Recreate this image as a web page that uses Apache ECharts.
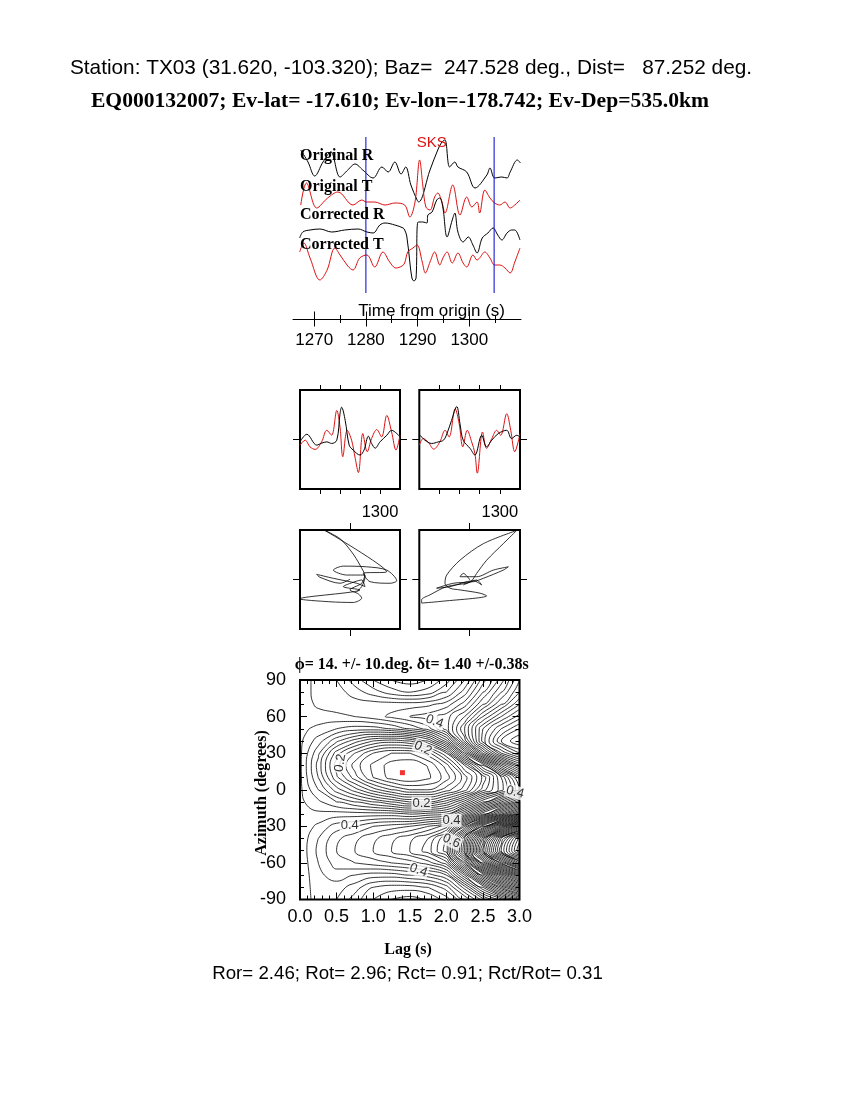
<!DOCTYPE html>
<html>
<head>
<meta charset="utf-8">
<script src="https://cdn.jsdelivr.net/npm/echarts@6/dist/echarts.min.js"></script>
<style>html,body{margin:0;padding:0;background:#fff}#c{width:850px;height:1100px}</style>
</head>
<body>
<div id="c"></div>
<script>
// ---------------- DATA ----------------
const titleStation = 'Station: TX03 (31.620, -103.320); Baz=  247.528 deg., Dist=   87.252 deg.';
const titleEvent = 'EQ000132007; Ev-lat= -17.610; Ev-lon=-178.742; Ev-Dep=535.0km';
const splitTitle = 'ϕ= 14. +/- 10.deg. δt= 1.40 +/-0.38s';
const ratioText = 'Ror= 2.46; Rot= 2.96; Rct= 0.91; Rct/Rot= 0.31';
const phaseName = 'SKS';

const traceNames = ['Original R', 'Original T', 'Corrected R', 'Corrected T'];
const traceOffsets = [0, -33, -62, -90];
const topTimeTicks = [1270, 1280, 1290, 1300];
const topMinorTicks = [1275, 1285, 1295, 1305];
const windowTimes = [1280.0, 1304.8];
const windowSpan = [33, -123];

// [time (s), amplitude]
const origR = [[1267.4,20],[1268.8,8],[1270.1,-6],[1271.7,8],[1273.2,18],[1275.0,-7],[1276.5,0],[1277.9,6],[1279.4,0],[1281.4,-8],[1283.1,3],[1284.3,-2],[1285.6,8],[1286.8,-4],[1287.7,3],[1288.7,-15],[1289.9,-30],[1290.2,-32],[1292.4,0],[1293.9,20],[1294.7,28],[1295.3,30],[1296.2,3],[1297.2,8],[1297.8,3],[1299.5,-2],[1301.1,-18],[1303.4,-5],[1304.0,2],[1304.9,-8],[1306.3,-7],[1307.3,-8],[1307.9,-2],[1309.3,10],[1309.9,7]];
const origT = [[1267.4,-2],[1268.5,20],[1270.5,-5],[1272.6,5],[1274.6,11],[1277.5,-2],[1279.2,3],[1280.1,1],[1281.7,1],[1283.7,-2],[1285.6,0],[1287.5,-2],[1288.5,-14],[1289.5,1],[1290.4,43],[1291.0,18],[1291.6,-4],[1292.4,-7],[1293.3,6],[1293.9,10],[1294.7,1],[1295.3,-10],[1296.8,18],[1298.2,-12],[1299.5,6],[1300.5,-4],[1301.5,1],[1302.0,-10],[1303.0,13],[1304.0,5],[1304.9,0],[1305.9,-2],[1306.9,1],[1307.9,-5],[1308.8,-2],[1309.8,3]];
const corrR = [[1267.2,-6],[1267.8,0],[1269.2,2],[1271.1,3],[1273.4,0],[1275.9,2],[1278.5,3],[1280.2,0],[1281.4,-1],[1282.7,7],[1283.7,9],[1285.6,7],[1287.2,4],[1287.5,2],[1287.9,-4],[1288.5,-30],[1288.9,-46],[1289.3,-49],[1289.7,-46],[1290.1,10],[1291.0,10],[1291.8,9],[1292.0,17],[1292.8,20],[1293.7,32],[1294.3,34],[1294.9,24],[1295.7,-5],[1296.7,12],[1297.2,19],[1297.8,0],[1298.8,-10],[1299.8,-5],[1300.7,-13],[1301.5,-21],[1302.5,-6],[1303.6,-1],[1304.6,4],[1305.5,-3],[1306.3,-8],[1307.3,-1],[1308.2,2],[1308.8,2],[1309.8,-8]];
const corrT = [[1267.2,8],[1268.0,17],[1269.2,2],[1271.1,-20],[1272.5,-10],[1274.0,12],[1275.0,5],[1276.5,-6],[1277.5,-10],[1278.8,2],[1280.2,5],[1281.7,-7],[1283.3,8],[1284.6,-2],[1285.8,-8],[1287.0,-6],[1287.5,-3],[1288.1,8],[1289.1,12],[1289.9,15],[1290.9,-2],[1291.5,-13],[1292.4,-2],[1293.3,8],[1294.3,-5],[1294.9,2],[1295.7,8],[1296.7,-3],[1297.8,7],[1298.8,-3],[1299.5,-7],[1300.7,5],[1301.5,0],[1302.0,2],[1303.0,8],[1304.0,2],[1304.9,-5],[1305.9,-5],[1306.9,-8],[1307.9,-13],[1308.8,-2],[1309.8,12]];

const boxTimeTicks = [1285, 1290, 1295, 1300];
const boxTimeLabels = [1300];
const boxLeftBlack = [[1280,-2.4],[1281.7,5.3],[1284.2,-5.7],[1285.4,-3.7],[1286.7,-2.4],[1287.9,-4],[1289.2,-0.7],[1290,26],[1290.4,32.6],[1291.3,19.3],[1292.3,-5.7],[1293.3,-10.7],[1295,-15.7],[1296,-10.7],[1297.1,3.3],[1297.9,-4],[1298.8,-8.7],[1300,-2.4],[1301.7,4.3],[1302.9,9.3],[1304.2,6],[1305,2.6]];
const boxLeftRed = [[1280,-5.7],[1281.3,-0.7],[1282.5,-7.4],[1283.8,-10],[1285.4,-2.4],[1286.7,9.3],[1287.9,4.3],[1289.2,29.3],[1290,12.6],[1290.7,-17.4],[1291.8,9.3],[1292.9,-0.7],[1293.8,-19],[1294.6,-33.4],[1295.7,6],[1296.8,-12.4],[1297.9,1],[1299.2,10],[1300.4,2.6],[1301.7,24.3],[1302.9,7.6],[1304,-10.7],[1305,4.3]];
const boxRightBlack = [[1280.2,4.3],[1281.4,-0.7],[1283.1,-4],[1284.7,-2.4],[1286,-0.7],[1286.9,6.3],[1288,19.3],[1289.3,33.3],[1290.1,16],[1290.9,-0.7],[1292.6,-9],[1293.8,-15.7],[1295.5,4.3],[1296.7,-7.4],[1298,-0.7],[1299.6,6],[1301.7,9.3],[1302.9,1],[1304.2,4.3],[1305,2.6]];
const boxRightRed = [[1280,-5.7],[1281,1],[1282.2,-2.7],[1283.6,-9.7],[1285.1,-2.4],[1286.4,9.3],[1287.4,2.6],[1288.9,31],[1289.9,16],[1290.8,-7.4],[1291.9,9.3],[1293,-2.4],[1293.8,-14],[1294.4,-34],[1295.7,7.6],[1296.7,-9],[1298,1],[1299.2,9.3],[1300.2,4.3],[1301.7,26],[1302.7,9.3],[1303.7,-12.4],[1305,6]];

// particle motion [radial, transverse]
const pmLeft = [[0,0.2],[-10,-3.8],[-30,2.2],[-33.3,5.2],[-16.7,1.2],[6.7,-3.8],[15,-7.2],[11.7,-0.5],[5,-2.2],[-6.7,-7.2],[10,-10.5],[-50,-19.5],[-20,-22.5],[3.3,-23.2],[11.7,-18.8],[8.3,-14.5],[0,-10.5],[11.7,-3.8],[15,4.5],[-3.3,4.5],[-16.7,9.5],[-6.7,13.5],[16.7,12.8],[36.7,9.5],[46.7,-1.2],[40,-3.8],[20,-2.2],[13.3,6.2],[36.7,7.8],[-25,49.5],[-10,41.2],[1.7,27.8],[10,14.5],[15,2.8],[11.7,-7.2],[6.7,-12.2]];
const pmRight = [[0.3,-0.5],[-6.3,6.2],[-9.6,2.8],[7,2.8],[23.5,9.5],[38.4,12.8],[33.4,9.5],[13.6,1.2],[3.6,-2.2],[-16.2,-3.8],[-32.8,-8.8],[-19.5,-7.2],[3.6,-1.2],[11.9,-5.5],[7,-0.5],[-3,-3.8],[-22.8,-7.2],[-39.4,-15.5],[-47.7,-20.5],[-47.7,-23.8],[-29.5,-22.2],[16.9,-16.5],[10.3,-13.8],[-9.6,-10.5],[-19.5,-8.8],[-24.5,-3.8],[-22.8,4.5],[-9.6,19.5],[13.6,36.2],[46.7,49.5],[33.4,36.2],[16.9,19.5],[7,6.2],[2,-1.2],[-6.3,-5.5]];

// misfit surface
const lagValues = [0, 0.25, 0.5, 0.75, 1.0, 1.25, 1.5, 1.75, 2.0, 2.25, 2.5, 2.75, 3.0];
const azValues = [90, 80, 70, 60, 50, 40, 30, 20, 10, 0, -10, -20, -30, -40, -50, -60, -70, -80, -90];
const misfitRows = [
  [.345,.37,.36,.33,.30,.28,.27,.28,.31,.36,.43,.49,.56],
  [.345,.37,.37,.35,.33,.31,.30,.31,.34,.39,.46,.52,.58],
  [.345,.365,.37,.37,.37,.37,.37,.375,.39,.43,.50,.56,.62],
  [.345,.35,.355,.36,.37,.385,.40,.41,.43,.48,.56,.62,.67],
  [.345,.335,.32,.31,.31,.32,.34,.37,.43,.52,.62,.68,.72],
  [.345,.31,.265,.23,.20,.19,.20,.24,.33,.49,.63,.72,.76],
  [.345,.285,.21,.16,.12,.10,.10,.13,.20,.36,.52,.64,.70],
  [.345,.272,.19,.13,.095,.07,.063,.082,.13,.22,.34,.48,.58],
  [.345,.28,.205,.15,.10,.072,.062,.075,.11,.17,.245,.34,.45],
  [.345,.30,.25,.21,.17,.14,.12,.12,.15,.19,.27,.33,.42],
  [.345,.325,.30,.28,.26,.24,.22,.22,.25,.31,.40,.48,.56],
  [.345,.345,.35,.35,.35,.35,.34,.35,.36,.45,.56,.66,.76],
  [.345,.365,.39,.40,.42,.43,.44,.46,.49,.64,.80,.95,1.10],
  [.345,.38,.415,.435,.455,.475,.495,.52,.58,.78,1.00,1.20,1.35],
  [.345,.385,.42,.44,.46,.48,.50,.53,.59,.80,1.05,1.24,1.38],
  [.345,.38,.41,.42,.43,.44,.45,.47,.51,.68,.90,1.06,1.20],
  [.345,.375,.39,.38,.37,.37,.38,.39,.42,.54,.70,.84,.96],
  [.345,.372,.37,.35,.32,.31,.31,.32,.35,.43,.54,.66,.76],
  [.345,.37,.36,.33,.30,.28,.27,.28,.31,.36,.43,.49,.56]
];
const contourStep = 0.02;
// [lag, azimuth, text, rotation]
const contourLabels = [[1.84,56,'0.4',-20],[1.68,34,'0.2',-25],[0.55,22,'0.2',80],[1.66,-11,'0.2',0],[0.68,-29,'0.4',0],[2.07,-25,'0.4',0],[2.07,-42,'0.6',-25],[1.62,-66,'0.4',-20],[2.94,-2,'0.4',-15]];
const bestFit = [1.40, 14];

// ---------------- STYLE / BUILD ----------------
const SANS = '"Liberation Sans", Arial, Helvetica, sans-serif';
const SERIF = '"Liberation Serif", "Times New Roman", serif';
const RED = '#dd1111';
const BLUE = '#0000d0';

function baseAxis(o) {
  const a = {
    type: 'value', splitLine: { show: false }, minorSplitLine: { show: false },
    axisLine: { show: false, onZero: false }, axisTick: { show: false }, axisLabel: { show: false },
    minorTick: { show: false }, silent: true
  };
  return Object.assign(a, o);
}
function tick(values, len, inside) {
  return { show: true, customValues: values, length: len, inside: !!inside, lineStyle: { color: '#000', width: 1 } };
}

const xAxes = [], yAxes = [];
// grid 0: top traces
xAxes.push(baseAxis({ gridIndex: 0, min: 1265.9, max: 1310, position: 'bottom',
  axisLine: { show: true, onZero: false, lineStyle: { color: '#000', width: 1 } },
  axisTick: tick(topTimeTicks, 7.5, false),
  axisLabel: { show: true, customValues: topTimeTicks, margin: 13, formatter: v => String(v), color: '#000', fontFamily: SANS, fontSize: 17 } }));
xAxes.push(baseAxis({ gridIndex: 0, min: 1265.9, max: 1310, position: 'bottom', axisTick: tick(topTimeTicks, 7.5, true) }));
xAxes.push(baseAxis({ gridIndex: 0, min: 1265.9, max: 1310, position: 'bottom', axisTick: tick(topMinorTicks, 4, false) }));
xAxes.push(baseAxis({ gridIndex: 0, min: 1265.9, max: 1310, position: 'bottom', axisTick: tick(topMinorTicks, 4, true) }));
yAxes.push(baseAxis({ gridIndex: 0, min: -149, max: 35 }));

// grids 1,2 : waveform boxes ; grids 3,4 : particle motion
function boxAxes(g, isWave) {
  const xmin = isWave ? 1280 : -50, xmax = isWave ? 1305 : 50;
  const xt = isWave ? boxTimeTicks : [0];
  const xlen = isWave ? 5 : 7;
  const xi = xAxes.length;
  xAxes.push(baseAxis({ gridIndex: g, min: xmin, max: xmax, position: 'bottom', axisTick: tick(xt, xlen, false),
    axisLabel: isWave ? { show: true, customValues: boxTimeLabels, margin: 15, formatter: v => String(v), color: '#000', fontFamily: SANS, fontSize: 16.5 } : { show: false } }));
  xAxes.push(baseAxis({ gridIndex: g, min: xmin, max: xmax, position: 'top', axisTick: tick(xt, xlen, false) }));
  const yi = yAxes.length;
  yAxes.push(baseAxis({ gridIndex: g, min: -50, max: 50, position: 'left', axisTick: tick([0], 7, false) }));
  yAxes.push(baseAxis({ gridIndex: g, min: -50, max: 50, position: 'right', axisTick: tick([0], 7, false) }));
  return [xi, yi];
}
const bL = boxAxes(1, true), bR = boxAxes(2, true), pL = boxAxes(3, false), pR = boxAxes(4, false);

// grid 5: contour map
const cxi = xAxes.length;
const cTick = { show: true, inside: true, length: 7, lineStyle: { color: '#000', width: 1 } };
const cMinor = { show: true, splitNumber: 5, length: 4, lineStyle: { color: '#000', width: 1 } };
const cMinorY = { show: true, splitNumber: 3, length: 4, lineStyle: { color: '#000', width: 1 } };
xAxes.push(baseAxis({ gridIndex: 5, min: 0, max: 3, interval: 0.5, position: 'bottom', axisTick: cTick, minorTick: cMinor,
  axisLabel: { show: true, margin: 9, formatter: v => v.toFixed(1), color: '#000', fontFamily: SANS, fontSize: 18 } }));
xAxes.push(baseAxis({ gridIndex: 5, min: 0, max: 3, interval: 0.5, position: 'top', axisTick: cTick, minorTick: cMinor }));
const cyi = yAxes.length;
yAxes.push(baseAxis({ gridIndex: 5, min: -90, max: 90, interval: 30, position: 'left', axisTick: cTick, minorTick: cMinorY,
  axisLabel: { show: true, margin: 14, formatter: v => String(v), color: '#000', fontFamily: SANS, fontSize: 18 } }));
yAxes.push(baseAxis({ gridIndex: 5, min: -90, max: 90, interval: 30, position: 'right', axisTick: cTick, minorTick: cMinorY }));

const series = [];
function line(data, xi, yi, color, width, smooth, z) {
  series.push({ type: 'line', xAxisIndex: xi, yAxisIndex: yi, data: data, symbol: 'none', showSymbol: false,
    smooth: smooth, lineStyle: { color: color, width: width }, itemStyle: { color: color }, silent: true, animation: false, z: z || 2 });
}
// top traces
[origR, origT, corrR, corrT].forEach((tr, k) => {
  line(tr.map(p => [p[0], p[1] + traceOffsets[k]]), 0, 0, k % 2 === 0 ? '#000' : RED, 1, 0.35, 3);
});
windowTimes.forEach(t => line([[t, windowSpan[0]], [t, windowSpan[1]]], 0, 0, BLUE, 1, false, 4));
// boxes
line(boxLeftRed, bL[0], bL[1], RED, 1, 0.35);
line(boxLeftBlack, bL[0], bL[1], '#000', 1, 0.35, 3);
line(boxRightRed, bR[0], bR[1], RED, 1, 0.35);
line(boxRightBlack, bR[0], bR[1], '#000', 1, 0.35, 3);
line(pmLeft, pL[0], pL[1], '#000', 0.8, 0.3);
line(pmRight, pR[0], pR[1], '#000', 0.8, 0.3);

// contours by marching squares on the misfit grid
(function buildContours() {
  const z = misfitRows, nr = azValues.length, nc = lagValues.length;
  let minV = Infinity, maxV = -Infinity;
  z.forEach(r => r.forEach(v => { if (v < minV) minV = v; if (v > maxV) maxV = v; }));
  for (let k = Math.ceil(minV / contourStep); k * contourStep < maxV; k++) {
    const lev = k * contourStep + 1e-7;
    const pts = {}, adj = {}, segs = [];
    const hKey = (i, j) => { const key = 'h' + i + '_' + j; if (!pts[key]) { const a = z[i][j], b = z[i][j + 1], t = (lev - a) / (b - a); pts[key] = [lagValues[j] + t * (lagValues[j + 1] - lagValues[j]), azValues[i]]; } return key; };
    const vKey = (i, j) => { const key = 'v' + i + '_' + j; if (!pts[key]) { const a = z[i][j], b = z[i + 1][j], t = (lev - a) / (b - a); pts[key] = [lagValues[j], azValues[i] + t * (azValues[i + 1] - azValues[i])]; } return key; };
    const add = (a, b) => { const id = segs.length; segs.push([a, b]); (adj[a] = adj[a] || []).push(id); (adj[b] = adj[b] || []).push(id); };
    for (let i = 0; i < nr - 1; i++) for (let j = 0; j < nc - 1; j++) {
      const tl = z[i][j], tr = z[i][j + 1], br = z[i + 1][j + 1], bl = z[i + 1][j];
      const code = (tl > lev ? 8 : 0) | (tr > lev ? 4 : 0) | (br > lev ? 2 : 0) | (bl > lev ? 1 : 0);
      if (code === 0 || code === 15) continue;
      const T = () => hKey(i, j), B = () => hKey(i + 1, j), L = () => vKey(i, j), R = () => vKey(i, j + 1);
      const c = (tl + tr + br + bl) / 4;
      switch (code) {
        case 1: case 14: add(L(), B()); break;
        case 2: case 13: add(B(), R()); break;
        case 3: case 12: add(L(), R()); break;
        case 4: case 11: add(T(), R()); break;
        case 6: case 9: add(T(), B()); break;
        case 7: case 8: add(L(), T()); break;
        case 5: if (c > lev) { add(L(), T()); add(B(), R()); } else { add(T(), R()); add(L(), B()); } break;
        case 10: if (c > lev) { add(T(), R()); add(L(), B()); } else { add(L(), T()); add(B(), R()); } break;
      }
    }
    const used = new Array(segs.length).fill(false);
    const walk = (start) => {
      const path = [pts[start]]; let cur = start;
      while (true) {
        let nx = -1;
        for (const id of adj[cur]) { if (!used[id]) { nx = id; break; } }
        if (nx < 0) break;
        used[nx] = true;
        const s = segs[nx]; cur = s[0] === cur ? s[1] : s[0];
        path.push(pts[cur]);
      }
      return path;
    };
    const paths = [];
    Object.keys(adj).forEach(key => { if (adj[key].length === 1 && !used[adj[key][0]]) paths.push(walk(key)); });
    for (let id = 0; id < segs.length; id++) if (!used[id]) paths.push(walk(segs[id][0]));
    paths.forEach(p => {
      if (p.length < 2) return;
      line(p, cxi, cyi, '#000', 0.8, 0.45, 2);
    });
  }
})();

series.push({ type: 'scatter', xAxisIndex: cxi, yAxisIndex: cyi, symbolSize: 1, itemStyle: { color: 'rgba(0,0,0,0)' }, silent: true, animation: false, z: 6,
  label: { show: true, position: 'inside', color: '#000', fontFamily: SANS, fontSize: 13, backgroundColor: '#fff', padding: [0, 1] },
  data: contourLabels.map(c => ({ value: [c[0], c[1]], label: { formatter: c[2], rotate: c[3] } })) });
series.push({ type: 'scatter', xAxisIndex: cxi, yAxisIndex: cyi, symbol: 'rect', symbolSize: 5, itemStyle: { color: '#ee0000' }, silent: true, animation: false, z: 7, data: [bestFit] });

function txt(text, x, y, font, opts) {
  return Object.assign({ type: 'text', x: x, y: y, z: 100, silent: true,
    style: { text: text, font: font, fill: '#000', align: 'center', verticalAlign: 'middle' } }, opts || {});
}
const graphics = [
  txt(titleStation, 411, 68.5, '20.8px ' + SANS),
  txt(titleEvent, 400, 101.5, 'bold 21.6px ' + SERIF),
  txt(phaseName, 431.7, 143, '15px ' + SANS),
  txt('Time from origin (s)', 431.6, 311, '17px ' + SANS),
  txt(splitTitle, 411.7, 665, 'bold 16px ' + SERIF),
  txt('Lag (s)', 408, 950, 'bold 16px ' + SERIF),
  txt(ratioText, 407.5, 974, '18.7px ' + SANS)
];
graphics[2].style.fill = RED;
const labelY = [156, 186.5, 215, 245];
traceNames.forEach((n, k) => { const g = txt(n, 300, labelY[k], 'bold 16px ' + SERIF); g.style.align = 'left'; graphics.push(g); });
const az = txt('Azimuth (degrees)', 262, 793, 'bold 16px ' + SERIF); az.rotation = Math.PI / 2; graphics.push(az);

const chart = echarts.init(document.getElementById('c'), null, { renderer: 'canvas' });
chart.setOption({
  backgroundColor: '#fff',
  animation: false,
  grid: [
    { left: 293, top: 135, width: 228, height: 184, show: false },
    { left: 300, top: 390, width: 100, height: 99, show: true, borderColor: '#000', borderWidth: 2, backgroundColor: 'transparent' },
    { left: 419.3, top: 390, width: 100.7, height: 99, show: true, borderColor: '#000', borderWidth: 2, backgroundColor: 'transparent' },
    { left: 300, top: 530, width: 100, height: 99, show: true, borderColor: '#000', borderWidth: 2, backgroundColor: 'transparent' },
    { left: 419.3, top: 530, width: 100.7, height: 99, show: true, borderColor: '#000', borderWidth: 2, backgroundColor: 'transparent' },
    { left: 300, top: 680, width: 219.5, height: 219.5, show: true, borderColor: '#000', borderWidth: 2, backgroundColor: 'transparent' }
  ],
  xAxis: xAxes,
  yAxis: yAxes,
  series: series,
  graphic: graphics
});
</script>
</body>
</html>
